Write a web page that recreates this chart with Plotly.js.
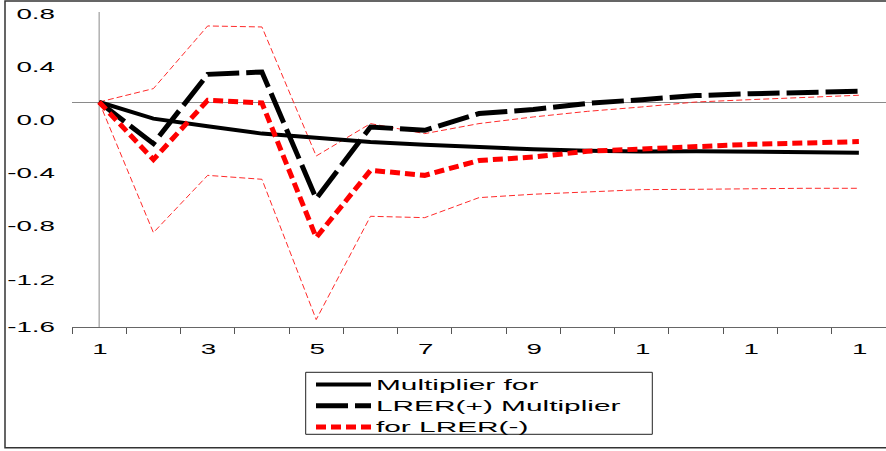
<!DOCTYPE html>
<html>
<head>
<meta charset="utf-8">
<script src="https://cdn.plot.ly/plotly-3.0.1.min.js"></script>
<style>
html, body { margin: 0; padding: 0; background: #ffffff; }
#chart { width: 886px; height: 451px; }
</style>
</head>
<body>
<div id="chart"></div>
<script>
// ---------------- data ----------------
const periods = [1, 2, 3, 4, 5, 6, 7, 8, 9, 10, 11, 12, 13, 14, 15];
// solid black
const multPlus = [0, -0.148, -0.216, -0.281, -0.317, -0.356, -0.379, -0.400, -0.420, -0.433, -0.440, -0.438, -0.443, -0.446, -0.450];
// long-dash black
const multMinus = [0, -0.370, 0.246, 0.267, -0.859, -0.222, -0.252, -0.103, -0.066, -0.012, 0.021, 0.057, 0.074, 0.083, 0.095];
// short-dash red (asymmetry)
const asymmetry = [0, -0.512, 0.015, -0.009, -1.205, -0.607, -0.652, -0.520, -0.489, -0.438, -0.418, -0.394, -0.376, -0.364, -0.352];
// thin red dashed bands
const upperBand = [0, 0.119, 0.676, 0.667, -0.480, -0.192, -0.281, -0.192, -0.133, -0.083, -0.044, 0.000, 0.021, 0.042, 0.060];
const lowerBand = [0, -1.161, -0.652, -0.687, -1.934, -1.016, -1.028, -0.850, -0.820, -0.800, -0.779, -0.776, -0.770, -0.767, -0.767];

const yTickLabels = ['0.8', '0.4', '0.0', '-0.4', '-0.8', '-1.2', '-1.6'];
const xTickLabels = ['1', '3', '5', '7', '9', '1', '1', '1'];
const legendNames = ['Multiplier for', 'LRER(+) Multiplier', 'for LRER(-)'];

// ---------------- layout geometry ----------------
const W = 886, H = 451;
const M = { l: 72, r: 0, t: 12, b: 124 };
const plotW = W - M.l - M.r, plotH = H - M.t - M.b;
const yRange = [-2.0, 0.8];
const xRange = [0.5, 15.5];
const pxPerUnit = plotH / (yRange[1] - yRange[0]);
const FONT = 'Liberation Sans, Arial, Helvetica, sans-serif';

// tick marks every 0.4 on the y axis
const yMarkVals = [];
for (let v = yRange[1]; v >= yRange[0] - 1e-9; v -= 0.4) yMarkVals.push(+v.toFixed(2));
// label positions (labels are offset from the tick marks in the reference)
const labelTopPx = 13.3, labelStepPx = 53.2;
const yLabelVals = yTickLabels.map((_, j) => {
  const v = yRange[1] - (labelTopPx + labelStepPx * j - M.t) / pxPerUnit;
  return Math.max(v, yRange[0]);
});
// x ticks on category boundaries, labels on every other category
const xBoundaries = periods.map(p => p - 0.5).concat([periods[periods.length - 1] + 0.5]);
let li = 0;
const xBoundaryText = xBoundaries.map(b => {
  const p = b + 0.5;
  if (p <= periods[periods.length - 1] && (p % 2 === 1)) return xTickLabels[li++];
  return '';
});

const px2paperX = x => (x - M.l) / plotW;
const px2paperY = y => (M.t + plotH - y) / plotH;

const traces = [
  { x: periods, y: upperBand, type: 'scatter', mode: 'lines', showlegend: false, hoverinfo: 'skip',
    line: { color: '#ff2a2a', width: 1, dash: '6px,3px' } },
  { x: periods, y: lowerBand, type: 'scatter', mode: 'lines', showlegend: false, hoverinfo: 'skip',
    line: { color: '#ff2a2a', width: 1, dash: '6px,3px' } },
  { x: periods, y: multPlus, type: 'scatter', mode: 'lines', name: legendNames[0],
    line: { color: '#000000', width: 4 } },
  { x: periods, y: multMinus, type: 'scatter', mode: 'lines', name: legendNames[1],
    line: { color: '#000000', width: 5, dash: '32px,7px' } },
  { x: periods, y: asymmetry, type: 'scatter', mode: 'lines', name: legendNames[2],
    line: { color: '#ff0000', width: 5, dash: '10px,5px' } }
];

const layout = {
  width: W, height: H,
  margin: M,
  paper_bgcolor: '#ffffff', plot_bgcolor: '#ffffff',
  font: { family: FONT, color: '#000000', size: 15 },
  showlegend: true,
  xaxis: {
    type: 'linear', range: xRange, fixedrange: true,
    tickmode: 'array', tickvals: xBoundaries, ticktext: xBoundaryText,
    ticklabelshift: 28, ticklabelstandoff: 2,
    ticks: 'outside', ticklen: 6, tickcolor: '#555555', tickwidth: 1,
    showline: true, linecolor: '#666666', linewidth: 1,
    showgrid: false, zeroline: false,
    tickfont: { family: FONT, size: 15, color: '#000000' }
  },
  yaxis: {
    range: yRange, fixedrange: true,
    tickmode: 'array', tickvals: yLabelVals, ticktext: yTickLabels,
    ticks: '', ticklabelstandoff: 16,
    showline: false, showgrid: false,
    zeroline: true, zerolinecolor: '#8a8a8a', zerolinewidth: 1,
    tickfont: { family: FONT, size: 15, color: '#000000' }
  },
  yaxis2: {
    overlaying: 'y', anchor: 'x', side: 'left', range: yRange, fixedrange: true,
    tickmode: 'array', tickvals: yMarkVals, showticklabels: false,
    ticks: 'outside', ticklen: 10, tickcolor: '#555555', tickwidth: 1,
    showline: true, linecolor: '#666666', linewidth: 1,
    showgrid: false, zeroline: false
  },
  legend: {
    x: px2paperX(311), y: px2paperY(369), xanchor: 'left', yanchor: 'top',
    bgcolor: 'rgba(0,0,0,0)', borderwidth: 0,
    font: { family: FONT, size: 14, color: '#000000' },
    itemwidth: 55, tracegroupgap: 0, traceorder: 'normal',
    itemclick: false, itemdoubleclick: false
  },
  shapes: [
    // vertical reference line at the first period
    { type: 'line', xref: 'x', yref: 'paper', x0: periods[0], x1: periods[0], y0: 0, y1: 1,
      line: { color: '#8a8a8a', width: 1 }, layer: 'below' },
    // legend frame
    { type: 'rect', xref: 'paper', yref: 'paper',
      x0: px2paperX(305.7), x1: px2paperX(652.3), y0: px2paperY(434.3), y1: px2paperY(372.3),
      line: { color: '#222222', width: 1 }, fillcolor: 'rgba(0,0,0,0)' },
    // outer frame
    { type: 'rect', xref: 'paper', yref: 'paper',
      x0: px2paperX(5), x1: px2paperX(888), y0: px2paperY(447.7), y1: px2paperY(1),
      line: { color: '#333333', width: 1.5 }, fillcolor: 'rgba(0,0,0,0)' }
  ]
};

Plotly.newPlot('chart', traces, layout, { staticPlot: true, displayModeBar: false }).then(gd => {
  // the reference text is horizontally stretched; widen glyphs accordingly
  const stretch = (sel, k) => gd.querySelectorAll(sel).forEach(t => {
    const L = t.getComputedTextLength();
    if (L > 0) {
      t.setAttribute('textLength', (L * k).toFixed(1));
      t.setAttribute('lengthAdjust', 'spacingAndGlyphs');
    }
  });
  stretch('.xtick text, .ytick text', 1.85);
  stretch('.legendtext', 2.13);
  // let the widened legend text show beyond Plotly's measured legend box
  gd.querySelectorAll('.legend .scrollbox, .legend').forEach(s => s.removeAttribute('clip-path'));
});
</script>
</body>
</html>
